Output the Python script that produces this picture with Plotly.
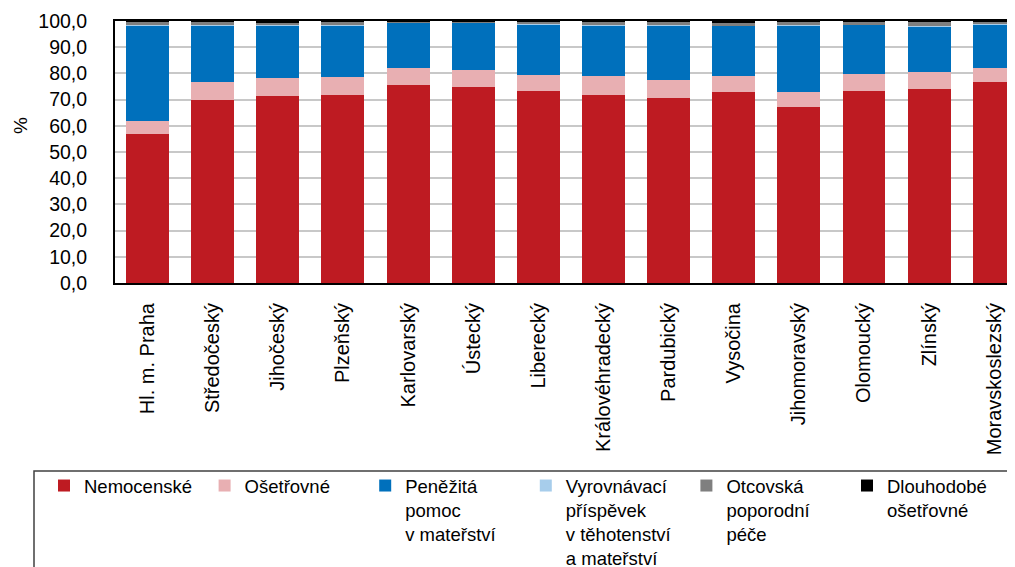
import plotly.graph_objects as go

categories = ["Hl. m. Praha", "Středočeský", "Jihočeský", "Plzeňský", "Karlovarský",
              "Ústecký", "Liberecký", "Královéhradecký", "Pardubický", "Vysočina",
              "Jihomoravský", "Olomoucký", "Zlínský", "Moravskoslezský"]

nemocenske = [57.0, 70.0, 71.5, 71.9, 75.4, 74.8, 73.1, 71.8, 70.8, 73.0, 67.2, 73.4, 74.0, 76.6]
osetrovne = [4.9, 6.8, 6.9, 6.8, 6.8, 6.6, 6.4, 7.3, 6.5, 6.0, 5.8, 6.4, 6.4, 5.3]
penezita = [36.4, 21.5, 20.0, 19.6, 17.1, 17.9, 19.3, 19.2, 21.0, 19.1, 25.3, 18.7, 17.5, 16.8]
vyrovnavaci = [0.1, 0.1, 0.1, 0.1, 0.2, 0.1, 0.1, 0.1, 0.1, 0.1, 0.1, 0.1, 0.1, 0.2]
otcovska = [1.5, 1.5, 1.0, 1.5, 0.4, 0.5, 1.0, 1.5, 1.5, 1.0, 1.5, 1.3, 1.8, 1.0]
dlouhodobe = [0.02, 0.02, 0.5, 0.02, 0.02, 0.02, 0.02, 0.02, 0.02, 0.8, 0.02, 0.02, 0.02, 0.02]

series = [
    ("Nemocenské", nemocenske, "#BE1B22"),
    ("Ošetřovné", osetrovne, "#E8AFB2"),
    ("Peněžitá<br>pomoc<br>v mateřství", penezita, "#0070BC"),
    ("Vyrovnávací<br>příspěvek<br>v těhotenství<br>a mateřství", vyrovnavaci, "#A7CDEB"),
    ("Otcovská<br>poporodní<br>péče", otcovska, "#7F7F7F"),
    ("Dlouhodobé<br>ošetřovné", dlouhodobe, "#000000"),
]

FONT = "Liberation Sans, Arial, sans-serif"

fig = go.Figure()
for name, vals, col in series:
    fig.add_trace(go.Bar(x=categories, y=vals, name=name,
                         marker=dict(color=col, line=dict(width=0))))

# page offset (body margin) in screen pixels
OX, OY = 8, 8
W, H = 1015, 567
L, R, T, B = 115 - OX, 0, 21 - OY, H - (283 - OY)
pw, ph = W - L - R, H - T - B

def px_x(p):
    return (p - OX - L) / pw

def px_y(p):
    return (H - B - (p - OY)) / ph

fig.update_layout(
    width=W, height=H,
    margin=dict(l=L, r=R, t=T, b=B, autoexpand=False),
    barmode="stack", bargap=0.34,
    plot_bgcolor="white", paper_bgcolor="white",
    font=dict(family=FONT, color="black", size=19),
    separators=", ",
    showlegend=True,
    legend=dict(orientation="h", x=px_x(44), xanchor="left", y=px_y(467), yanchor="top",
                valign="top", font=dict(size=18.5, family=FONT), entrywidth=115.6,
                traceorder="normal", bgcolor="rgba(0,0,0,0)", borderwidth=0,
                itemclick=False),
    xaxis=dict(range=[-0.5, -0.5 + pw / 65.13], tickangle=-90, showline=True,
               linecolor="black", linewidth=2, mirror=True, ticks="",
               tickfont=dict(size=20), ticklabelstandoff=10, showgrid=False,
               fixedrange=True),
    yaxis=dict(range=[0, 100], dtick=10, tickformat=".1f", showline=True,
               linecolor="black", linewidth=2, ticks="", tickfont=dict(size=19.5),
               ticklabelstandoff=22, showgrid=True, gridcolor="#C8C8C8", gridwidth=1.5,
               zeroline=False, fixedrange=True),
    shapes=[dict(type="rect", xref="paper", yref="paper",
                 x0=px_x(34), x1=px_x(1040), y0=px_y(471), y1=px_y(640),
                 line=dict(color="#404040", width=1.5), fillcolor="rgba(0,0,0,0)")],
    annotations=[
        dict(text="%", textangle=-90, xref="paper", yref="paper", x=px_x(21), y=px_y(126),
             showarrow=False, font=dict(size=19, family=FONT), xanchor="center",
             yanchor="middle"),
    ],
)

fig.write_html("out.html", config={"displayModeBar": False})
